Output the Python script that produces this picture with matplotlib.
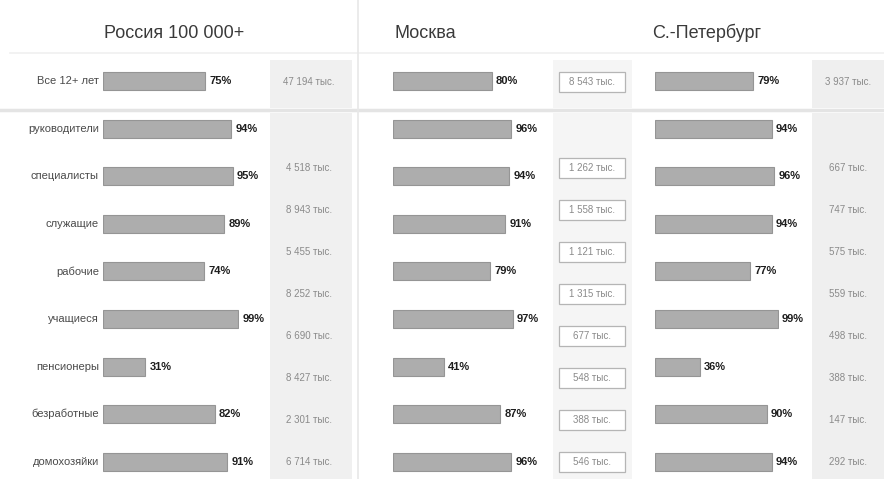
#!/usr/bin/env python3
"""
Доля аудитории по социальным группам: Россия 100 000+, Москва, С.-Петербург
Generates: out.png
"""
import matplotlib.pyplot as plt
from matplotlib.patches import Rectangle

plt.rcParams['font.family'] = ['Liberation Sans', 'DejaVu Sans']

W, H = 884, 479

# Data
GROUPS = ['Все 12+ лет', 'руководители', 'специалисты', 'служащие', 'рабочие',
          'учащиеся', 'пенсионеры', 'безработные', 'домохозяйки']

russia_pct = [75, 94, 95, 89, 74, 99, 31, 82, 91]
moscow_pct = [80, 96, 94, 91, 79, 97, 41, 87, 96]
spb_pct = [79, 94, 96, 94, 77, 99, 36, 90, 94]

russia_total = '47 194 тыс.'
moscow_total = '8 543 тыс.'
spb_total = '3 937 тыс.'

russia_counts = ['4 518 тыс.', '8 943 тыс.', '5 455 тыс.', '8 252 тыс.',
                 '6 690 тыс.', '8 427 тыс.', '2 301 тыс.', '6 714 тыс.']
moscow_counts = ['1 262 тыс.', '1 558 тыс.', '1 121 тыс.', '1 315 тыс.',
                 '677 тыс.', '548 тыс.', '388 тыс.', '546 тыс.']
spb_counts = ['667 тыс.', '747 тыс.', '575 тыс.', '559 тыс.',
              '498 тыс.', '388 тыс.', '147 тыс.', '292 тыс.']

# Layout (pixels)
ROW0, ROW_STEP = 81, 47.6          # bar rows
SIDE0, SIDE_STEP = 168, 42.0       # count labels under the total
BAR_H = 18
BOX_W, BOX_H = 66, 20

BAR_FILL = '#adadad'
BAR_EDGE = '#959595'
TEXT = '#4a4a4a'


def px_axes(fig, x0, x1, y0, y1):
    return fig.add_axes([x0 / W, 1 - y1 / H, (x1 - x0) / W, (y1 - y0) / H])


fig = plt.figure(figsize=(W / 100, H / 100), dpi=100)
fig.patch.set_facecolor('white')

# Background layer in pixel coordinates
bg = px_axes(fig, 0, W, 0, H)
bg.set_xlim(0, W)
bg.set_ylim(H, 0)
bg.axis('off')

side_cols = [(270, 352, '#f0f0f0'), (553, 632, '#f5f5f5'), (812, 884, '#efefef')]
for x0, x1, c in side_cols:
    bg.add_patch(Rectangle((x0, 60), x1 - x0, 48, color=c, lw=0))
    bg.add_patch(Rectangle((x0, 113), x1 - x0, H - 113, color=c, lw=0))

bg.plot([10, W], [53, 53], color='#f0f0f0', lw=1.2)
bg.plot([0, W], [110, 110], color='#e4e4e4', lw=2.5)
bg.plot([358, 358], [0, H], color='#e8e8e8', lw=1.2)

# Column headers
bg.text(104, 33, 'Россия 100 000+', fontsize=13, color='#3a3a3a', va='center', ha='left')
bg.text(395, 33, 'Москва', fontsize=13, color='#3a3a3a', va='center', ha='left')
bg.text(652, 33, 'С.-Петербург', fontsize=13, color='#3a3a3a', va='center', ha='left')


def bar_column(x0, px_per_pct, values, with_names=False):
    ax = px_axes(fig, x0, x0 + 100 * px_per_pct, 0, H)
    ax.set_xlim(0, 100)
    ax.set_ylim((H - ROW0) / ROW_STEP, -ROW0 / ROW_STEP)
    ax.axis('off')
    ys = list(range(len(values)))
    ax.barh(ys, values, height=BAR_H / ROW_STEP, color=BAR_FILL,
            edgecolor=BAR_EDGE, linewidth=0.8)
    for y, v in zip(ys, values):
        ax.annotate(f'{v}%', (v, y), xytext=(3, 0), textcoords='offset points',
                    va='center', ha='left', fontsize=8, fontweight='bold',
                    color='#1e1e1e', annotation_clip=False)
    if with_names:
        for y, name in zip(ys, GROUPS):
            ax.annotate(name, (0, y), xytext=(-3, 0), textcoords='offset points',
                        va='center', ha='right', fontsize=8, color=TEXT,
                        annotation_clip=False)
    return ax


bar_column(103, 1.364, russia_pct, with_names=True)
bar_column(393, 1.234, moscow_pct)
bar_column(655, 1.24, spb_pct)


def count_column(xc, total, counts, boxed=False):
    ys = [82] + [SIDE0 + SIDE_STEP * i for i in range(len(counts))]
    for y, label in zip(ys, [total] + counts):
        if boxed:
            bg.add_patch(Rectangle((xc - BOX_W / 2, y - BOX_H / 2), BOX_W, BOX_H,
                                   fc='white', ec='#b5b5b5', lw=0.9))
        bg.text(xc, y, label, fontsize=7, color='#8a8a8a', ha='center', va='center')


count_column(309, russia_total, russia_counts)
count_column(592, moscow_total, moscow_counts, boxed=True)
count_column(848, spb_total, spb_counts)

fig.savefig('out.png', dpi=100, facecolor='white')
